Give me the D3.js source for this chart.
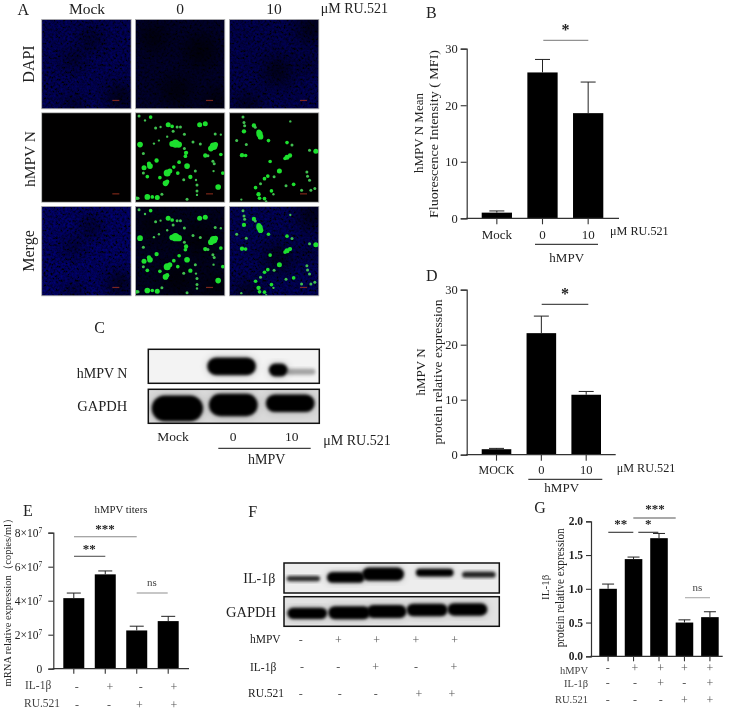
<!DOCTYPE html>
<html><head><meta charset="utf-8">
<script src="https://cdn.jsdelivr.net/npm/d3@7"></script>
<style>
html,body{margin:0;padding:0;background:#fff}
svg{display:block;filter:blur(.35px)}
text{font-family:"Liberation Serif",serif;fill:#222}
</style></head><body>
<svg id="fig" width="729" height="710" viewBox="0 0 729 710"></svg>
<script>
// ---------- data ----------
const catB = ["Mock","0","10"];
const valB = [1,25.8,18.6];
const errB = [1.3,28.1,24.1];
const ticksB = [0,10,20,30];

const catD = ["MOCK","0","10"];
const valD = [1,22.1,10.9];
const errD = [1.15,25.2,11.5];
const ticksD = [0,10,20,30];

const catE = ["a","b","c","d"];
const valE = [4.15e7,5.55e7,2.25e7,2.8e7];
const errE = [4.45e7,5.75e7,2.5e7,3.08e7];
const ticksE = [0,2e7,4e7,6e7,8e7];
const ilE = ["-","+","-","+"];
const ruE = ["-","-","+","+"];

const catG = ["a","b","c","d","e"];
const valG = [1,1.44,1.75,0.5,0.58];
const errG = [1.07,1.47,1.82,0.54,0.66];
const ticksG = [0,0.5,1,1.5,2];
const hmpvG = ["-","+","+","+","+"];
const ilG = ["-","-","+","-","+"];
const ruG = ["-","-","-","+","+"];

const hmpvF = ["-","+","+","+","+"];
const ilF = ["-","-","+","-","+"];
const ruF = ["-","-","-","+","+"];

// blots: [lane centre, width, y centre, height, strength] as fractions of the frame
const blotC1 = [[.487,.285,.50,.52,1],[.76,.11,.61,.38,1],[.89,.175,.66,.18,.3]];
const blotC2 = [[.17,.30,.56,.76,1],[.497,.285,.46,.66,1],[.83,.285,.41,.52,1]];
const blotF1 = [[.09,.155,.52,.17,.8],[.287,.175,.48,.36,1],[.46,.195,.37,.44,1],[.70,.175,.32,.26,1],[.905,.155,.39,.19,.85]];
const blotF2 = [[.108,.185,.56,.38,1],[.303,.195,.54,.44,1],[.477,.185,.5,.44,1],[.665,.19,.45,.42,1],[.852,.185,.43,.42,1]];

// micrograph green cells, read in a 0-282 frame: [x,y,r]
const cells0 = [[18,100,7],[28,127,3],[8,262,4],[40,258,7],[55,258,4],[70,260,6],[84,250,3],[30,170,6],[48,165,7],[45,158,5],[28,186,3],[40,197,4],[68,148,5],[78,200,4],[100,186,9],[108,180,6],[95,217,7],[100,212,5],[120,168,4],[132,186,4],[136,153,4],[150,206,3],[160,165,7],[170,198,5],[185,180,3],[187,207,2],[157,125,5],[155,135,4],[152,112,3],[125,97,11],[115,98,7],[135,100,8],[103,40,6],[115,45,4],[130,47,3],[140,47,3],[152,69,3],[118,60,3],[100,76,2],[65,50,3],[80,47,2],[50,17,4],[33,27,2],[15,14,3],[60,97,2],[75,88,2],[178,92,3],[198,40,6],[215,37,6],[245,68,3],[262,70,2],[240,105,10],[232,112,7],[246,100,6],[200,98,3],[215,133,5],[223,134,3],[262,130,4],[238,150,3],[242,158,3],[240,180,2],[268,186,4],[254,228,7],[190,240,3],[190,252,2],[160,265,3],[12,262,3],[190,222,3]];
const cells10 = [[45,17,3],[48,33,3],[50,43,3],[48,60,5],[78,42,5],[82,48,3],[93,62,6],[95,68,8],[98,76,7],[26,88,3],[122,88,4],[55,100,3],[178,94,4],[193,101,3],[42,132,5],[53,133,4],[178,138,6],[187,133,5],[172,142,4],[246,117,3],[265,120,6],[127,151,4],[155,180,6],[120,195,4],[110,203,4],[139,197,3],[98,218,3],[83,230,4],[92,250,5],[95,262,4],[110,263,4],[131,240,4],[137,250,2],[175,224,3],[198,220,4],[238,183,3],[240,196,3],[246,208,3],[222,238,3],[250,238,3],[262,233,3],[40,266,2],[115,272,2],[188,30,2]];
const cellSets = [[],cells0,cells10];
const colNames = ["Mock","0","10"];
const rowNames = ["DAPI","hMPV N","Merge"];
// blue channel strength per row / column
const blueLevel = [[.42,.2,.38],[0,0,0],[.5,.14,.42]];
// darker zones in the nuclear stain per column, 0-282 frame: [x,y,r]
const darkZones = [
  [[153,65,30],[100,128,26],[240,240,42],[100,270,28]],
  [[60,60,40],[200,100,50],[130,220,45],[250,250,40]],
  [[150,160,42],[255,30,45],[60,265,35],[240,140,20]]
];

// ---------- helpers ----------
const svg = d3.select("#fig");
const defs = svg.append("defs");
function blurF(id,s){defs.append("filter").attr("id",id).attr("x","-40%").attr("y","-40%").attr("width","180%").attr("height","180%")
  .append("feGaussianBlur").attr("stdDeviation",s);}
blurF("b06",.7); blurF("b2",1.5); blurF("b4",4); blurF("b8",8);
const noise = defs.append("filter").attr("id","noise").attr("x","0").attr("y","0").attr("width","100%").attr("height","100%");
noise.append("feTurbulence").attr("type","fractalNoise").attr("baseFrequency",.42).attr("numOctaves",2).attr("seed",7);
noise.append("feColorMatrix").attr("values","0 0 0 0 0  0 0 0 0 0  1.5 0 0 0 -.38  0 0 0 0 1");
noise.append("feGaussianBlur").attr("stdDeviation",.5);

function T(x,y,s,size,opt={}){
  const t = svg.append("text").attr("x",x).attr("y",y).attr("font-size",size).text(s);
  if(opt.anchor) t.attr("text-anchor",opt.anchor);
  if(opt.weight) t.attr("font-weight",opt.weight);
  if(opt.fill) t.style("fill",opt.fill);
  if(opt.rot) t.attr("transform",`rotate(-90 ${x} ${y})`).attr("text-anchor","middle");
  if(opt.len) t.attr("textLength",opt.len).attr("lengthAdjust","spacingAndGlyphs");
  return t;
}
function L(x1,y1,x2,y2,c="#222",w=1){svg.append("line").attr("x1",x1).attr("y1",y1).attr("x2",x2).attr("y2",y2).attr("stroke",c).attr("stroke-width",w);}
function star(x,y,s,size=16,fill="#222"){T(x,y+5.5,s,size,{anchor:"middle",fill,weight:"bold"});}

function bars(o){
  const y = d3.scaleLinear().domain(o.domain).range([o.y0,o.y1]);
  const x = d3.scaleBand().domain(o.cats).range([o.bar0,o.bar1]).paddingInner(o.pad).paddingOuter(0);
  const g = svg.append("g");
  const col = o.axisColor||"#333";
  g.selectAll("rect.bar").data(o.cats).join("rect").attr("class","bar")
    .attr("x",c=>x(c)).attr("width",x.bandwidth())
    .attr("y",(c,i)=>y(o.vals[i])).attr("height",(c,i)=>o.y0-y(o.vals[i])).attr("fill","#000");
  g.selectAll("line.stem").data(o.cats).join("line").attr("class","stem")
    .attr("x1",c=>x(c)+x.bandwidth()/2).attr("x2",c=>x(c)+x.bandwidth()/2)
    .attr("y1",(c,i)=>y(o.vals[i])).attr("y2",(c,i)=>y(o.errs[i])).attr("stroke","#222");
  g.selectAll("line.cap").data(o.cats).join("line").attr("class","cap")
    .attr("x1",c=>x(c)+x.bandwidth()/2-o.cap).attr("x2",c=>x(c)+x.bandwidth()/2+o.cap)
    .attr("y1",(c,i)=>y(o.errs[i])).attr("y2",(c,i)=>y(o.errs[i])).attr("stroke","#222");
  const ay = svg.append("g").attr("transform",`translate(${o.ax},0)`)
    .call(d3.axisLeft(y).tickValues(o.ticks).tickSize(o.tick).tickPadding(o.tickPad||3).tickFormat(o.fmt||d3.format("d")));
  ay.select(".domain").attr("stroke",col).attr("stroke-width",1.2);
  ay.selectAll("line").attr("stroke",col).attr("stroke-width",1.1);
  ay.selectAll("text").attr("font-size",o.tickSize).attr("font-family",null).attr("font-weight",o.tickWeight||null);
  const ax = svg.append("g").attr("transform",`translate(0,${o.y0})`)
    .call(d3.axisBottom(x).tickSize(o.tick).tickFormat(""));
  ax.select(".domain").remove();
  ax.selectAll("line").attr("stroke",col).attr("stroke-width",1.1);
  L(o.ax-0.6,o.y0,o.xEnd,o.y0,col,1.2);
  return {x,y,ay};
}
const rowSigns=(arr,xs,y,size=12)=>arr.forEach((s,i)=>T(xs[i],y,s,size,{anchor:"middle",fill:"#555"}));

// ---------- panel A ----------
T(17.5,14.5,"A",16);
const colX=[41.7,135.4,229.4], rowY=[19.4,112.8,206.4], pw=89.4;
const pScale=d3.scaleLinear().domain([4,274]).range([0,pw]);
defs.append("clipPath").attr("id","pc").append("rect").attr("width",pw).attr("height",pw);
rowNames.forEach((rn,r)=>colNames.forEach((cn,c)=>{
  const g=svg.append("g").attr("transform",`translate(${colX[c]},${rowY[r]})`).attr("clip-path","url(#pc)");
  g.append("rect").attr("width",pw).attr("height",pw).attr("fill",r==1?"#010000":"#000004");
  if(blueLevel[r][c]>0){
    g.append("rect").attr("width",pw).attr("height",pw).attr("filter","url(#noise)").attr("opacity",blueLevel[r][c]);
    g.selectAll("circle.dz").data(darkZones[c]).join("circle").attr("class","dz")
      .attr("cx",d=>pScale(d[0])).attr("cy",d=>pScale(d[1])).attr("r",d=>d[2]/3).attr("fill","#000").attr("opacity",.7).attr("filter","url(#b8)");
  }
  if(r>0){
    g.selectAll("circle.cell").data(cellSets[c]).join("circle").attr("class","cell")
      .attr("cx",d=>pScale(d[0])).attr("cy",d=>pScale(d[1])).attr("r",d=>d[2]/3+.5)
      .attr("fill",d=>d[2]<=3?"#3fc04f":"#1fe02f").attr("filter","url(#b06)");
  }
  g.append("rect").attr("x",pw*.79).attr("y",pw*.9).attr("width",7).attr("height",1.2).attr("fill","#a5331f").attr("opacity",.75);
  svg.append("rect").attr("x",colX[c]).attr("y",rowY[r]).attr("width",pw).attr("height",pw).attr("fill","none").attr("stroke","#aaa").attr("stroke-width",.8);
}));
colNames.forEach((n,i)=>T([87,180,274][i],13.5,n,15.5,{anchor:"middle"}));
T(320.7,12.5,"μM RU.521",14);
T(33.5,64,"DAPI",16,{rot:true});
T(34.5,159,"hMPV N",15.5,{rot:true});
T(33.5,251,"Merge",16,{rot:true});

// ---------- panel B ----------
T(426,18,"B",16);
const pB=bars({cats:catB,vals:valB,errs:errB,domain:[0,30],y0:218.3,y1:48.7,bar0:481.7,bar1:603.3,pad:.337,cap:7.5,ax:466.7,xEnd:619,ticks:ticksB,tick:6,tickSize:12.5,tickPad:3});
star(565.5,29,"*",16); L(543.3,40.3,588.3,40.3,"#777");
T(423,133,"hMPV N Mean",13,{rot:true});
T(438,134,"Fluorescence Intensity ( MFI)",13,{rot:true,len:168});
catB.forEach(c=>T(pB.x(c)+pB.x.bandwidth()/2,238.7,c,13,{anchor:"middle"}));
T(610,235,"μM RU.521",12.2);
L(535,244.3,598,244.3,"#111");
T(566.7,261.5,"hMPV",13,{anchor:"middle"});

// ---------- panel C ----------
T(94.3,332.7,"C",16);
function blot(x0,y0,w,h,data,bg){
  const sx=d3.scaleLinear().domain([0,1]).range([0,w]), sy=d3.scaleLinear().domain([0,1]).range([0,h]);
  const id="bc"+Math.round(x0)+"_"+Math.round(y0);
  defs.append("clipPath").attr("id",id).append("rect").attr("width",w).attr("height",h);
  const g=svg.append("g").attr("transform",`translate(${x0},${y0})`).attr("clip-path",`url(#${id})`);
  g.append("rect").attr("width",w).attr("height",h).attr("fill",bg);
  const drawBand=(cls,filter,mult)=>g.selectAll("rect."+cls).data(data).join("rect").attr("class",cls)
    .attr("x",d=>sx(d[0]-d[1]/2)).attr("width",d=>sx(d[1]))
    .attr("y",d=>sy(d[2]-d[3]/2)).attr("height",d=>sy(d[3]))
    .attr("rx",d=>sy(d[3])/2).attr("fill","#000").attr("opacity",d=>d[4]*mult).attr("filter",filter);
  drawBand("halo","url(#b4)",.22);
  drawBand("band","url(#b2)",1);
  svg.append("rect").attr("x",x0).attr("y",y0).attr("width",w).attr("height",h).attr("fill","none").attr("stroke","#111").attr("stroke-width",1.5);
}
blot(148.3,349.3,171,34,blotC1,"#f3f3f3");
blot(148.3,389.3,171,34,blotC2,"#d9d9d9");
T(76.7,378,"hMPV N",14);
T(77.3,411,"GAPDH",14.5);
T(173,440.7,"Mock",13.5,{anchor:"middle"});
T(233,440.7,"0",13.5,{anchor:"middle"});
T(291.7,440.7,"10",13.5,{anchor:"middle"});
T(323.3,445,"μM RU.521",14);
L(218.3,448.3,310.7,448.3,"#111");
T(266.7,464.3,"hMPV",14,{anchor:"middle"});

// ---------- panel D ----------
T(426,281,"D",16);
const pD=bars({cats:catD,vals:valD,errs:errD,domain:[0,30],y0:454.7,y1:289.7,bar0:481.7,bar1:601,pad:.34,cap:7.5,ax:466.7,xEnd:615.7,ticks:ticksD,tick:6,tickSize:12.5,tickPad:3});
star(565,293,"*",16); L(541.7,304.3,588.3,304.3,"#222");
T(425,372,"hMPV N",13,{rot:true});
T(442,372,"protein relative expression",13.4,{rot:true,len:145});
catD.forEach(c=>T(pD.x(c)+pD.x.bandwidth()/2,474,c,c=="MOCK"?12:12.5,{anchor:"middle"}));
T(616.7,471.7,"μM RU.521",12.2);
L(528.3,479.3,602.3,479.3,"#111");
T(561.7,492,"hMPV",13,{anchor:"middle"});

// ---------- panel E ----------
T(23,516,"E",16);
T(121,513.3,"hMPV titers",10.8,{anchor:"middle"});
const pE=bars({cats:catE,vals:valE,errs:errE,domain:[0,8e7],y0:668.7,y1:532.7,bar0:63.3,bar1:178.7,pad:.333,cap:7,ax:53.3,xEnd:189,ticks:ticksE,tick:5,tickSize:11.5,tickPad:6,
  fmt:d=>d?(d/1e7)+"×10":"0",axisColor:"#333"});
pE.ay.selectAll("text").filter(d=>d>0).append("tspan").attr("dy",-4).attr("font-size",7.5).text("7");
T(11,600,"mRNA relative expression（copies/ml）",11,{rot:true,len:173});
star(105,527.5,"***",13); L(74,536.7,136.7,536.7,"#888",1.1);
star(89.3,547.5,"**",13); L(74,556.3,105.3,556.3,"#555",1.1);
T(152,586,"ns",11,{anchor:"middle",fill:"#444"}); L(136.7,593,167.7,593,"#999",1.1);
T(25,689,"IL-1β",11.5,{fill:"#444"});
T(24,707,"RU.521",11.5,{fill:"#444"});
rowSigns(ilE,[76.7,110,140.7,174],690.5);
rowSigns(ruE,[77,109,139.3,174],708.5);

// ---------- panel F ----------
T(248.3,516.7,"F",16);
blot(284,563,215.3,30,blotF1,"#ededed");
blot(284,596.7,215.3,29.6,blotF2,"#e2e2e2");
T(243.3,583.3,"IL-1β",14);
T(226,617.3,"GAPDH",14.5);
T(250,643.3,"hMPV",11.5);
T(250,671,"IL-1β",11.5);
T(248,697.3,"RU.521",11.5);
rowSigns(hmpvF,[300.7,338.3,376.7,416,454.7],643.5);
rowSigns(ilF,[302,338.3,375.7,416,454],671);
rowSigns(ruF,[300.7,339.7,375.7,419,452],698);

// ---------- panel G ----------
T(534.3,513.3,"G",16);
bars({cats:catG,vals:valG,errs:errG,domain:[0,2],y0:656.3,y1:521.3,bar0:599.3,bar1:718.7,pad:.31,cap:6,ax:591,xEnd:722.7,ticks:ticksG,tick:5,tickSize:11.5,tickPad:3,tickWeight:"bold",fmt:d3.format(".1f")});
T(549.3,587.3,"IL-1β",11,{rot:true});
T(564,587.8,"protein relative expression",11.5,{rot:true,len:119});
star(620.7,522.5,"**",13); L(608.3,532.3,633.3,532.3,"#333",1.1);
star(655,507.5,"***",13); L(633.3,518,675.7,518,"#555",1.1);
star(648.3,522.5,"*",13); L(638.3,532.3,658.3,532.3,"#333",1.1);
T(697.3,590.7,"ns",11,{anchor:"middle",fill:"#444"}); L(685,597.7,710,597.7,"#aaa",1.1);
T(588,673.5,"hMPV",10.5,{anchor:"end",fill:"#444"});
T(588,687,"IL-1β",10.5,{anchor:"end",fill:"#444"});
T(588,703.3,"RU.521",10.5,{anchor:"end",fill:"#444"});
const gx=[607.7,635,660.7,684.3,710];
rowSigns(hmpvG,gx,672);
rowSigns(ilG,gx,687);
rowSigns(ruG,gx,703.5);
</script></body></html>
